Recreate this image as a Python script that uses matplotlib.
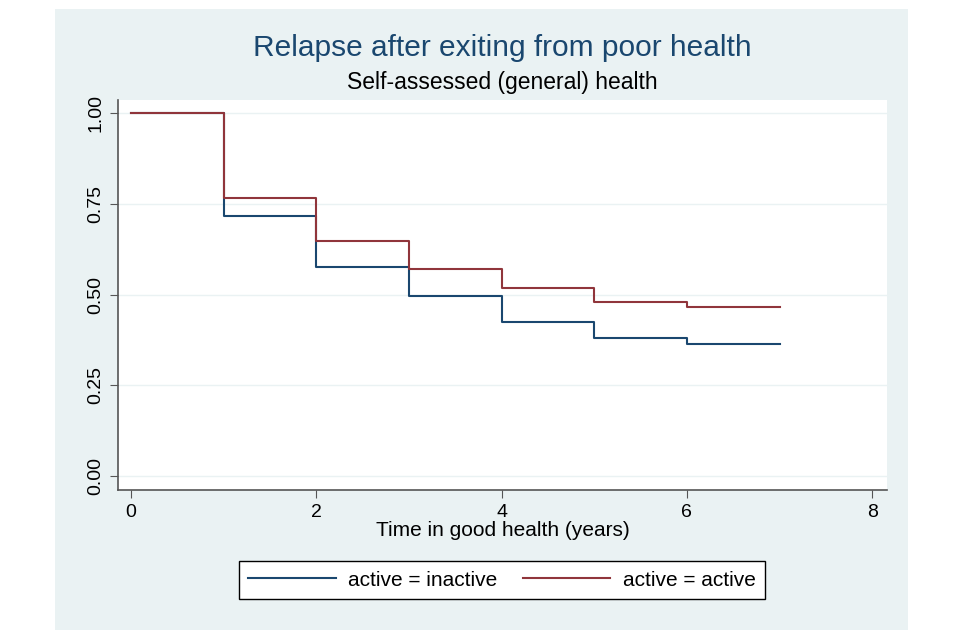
import matplotlib.pyplot as plt
from matplotlib.patches import Rectangle

plt.rcParams['font.family'] = ['Liberation Sans', 'DejaVu Sans']

# Kaplan-Meier estimates (value from each time onwards)
times = [0, 1, 2, 3, 4, 5, 6, 7]
inactive = [1.00, 0.716, 0.576, 0.495, 0.424, 0.381, 0.363, 0.363]
active = [1.00, 0.766, 0.647, 0.570, 0.517, 0.481, 0.466, 0.466]

x_ticks = [0, 2, 4, 6, 8]
y_ticks = [0.00, 0.25, 0.50, 0.75, 1.00]

navy = "#1a476f"
maroon = "#90353b"
panel = "#eaf2f3"

fig = plt.figure(figsize=(9.6, 6.4), dpi=100)
bg = Rectangle((55 / 960, 1 - 630 / 640), (908 - 55) / 960, (630 - 9) / 640,
               transform=fig.transFigure, facecolor=panel, edgecolor="none", zorder=-5)
fig.add_artist(bg)

ax = fig.add_axes([118 / 960, 1 - 490 / 640, (887 - 118) / 960, (490 - 100) / 640])
ax.set_facecolor("white")

ax.step(times, inactive, where="post", color=navy, lw=1.5, label="active = inactive")
ax.step(times, active, where="post", color=maroon, lw=1.5, label="active = active")

ax.set_xlim(-0.14, 8.16)
ax.set_ylim(-0.038, 1.036)
ax.set_xticks(x_ticks)
ax.set_yticks(y_ticks)
ax.set_yticklabels([f"{v:.2f}" for v in y_ticks], rotation=90, va="center")
ax.grid(axis="y", color=panel, lw=1)
ax.set_axisbelow(True)

for s in ["top", "right"]:
    ax.spines[s].set_visible(False)
for s in ["left", "bottom"]:
    ax.spines[s].set_color("#555555")
    ax.spines[s].set_linewidth(1.2)
ax.tick_params(direction="out", length=6, color="#555555", labelsize=14, pad=4)

ax.set_xlabel("Time in good health (years)", fontsize=15, labelpad=0)

fig.text(502 / 960, 1 - 48 / 640, "Relapse after exiting from poor health", ha="center", va="center",
         fontsize=21.5, color=navy)
fig.text(502 / 960, 1 - 82 / 640, "Self-assessed (general) health", ha="center", va="center",
         fontsize=16.5, color="black")

leg = fig.legend(loc="center", bbox_to_anchor=(502 / 960, 1 - 580 / 640), ncol=2, fontsize=15,
                 frameon=True, fancybox=False, edgecolor="black", handlelength=4.2,
                 handletextpad=0.6, columnspacing=1.2, borderpad=0.45)
leg.get_frame().set_linewidth(1)
leg.get_frame().set_alpha(None)

fig.savefig("out.png", dpi=100)
